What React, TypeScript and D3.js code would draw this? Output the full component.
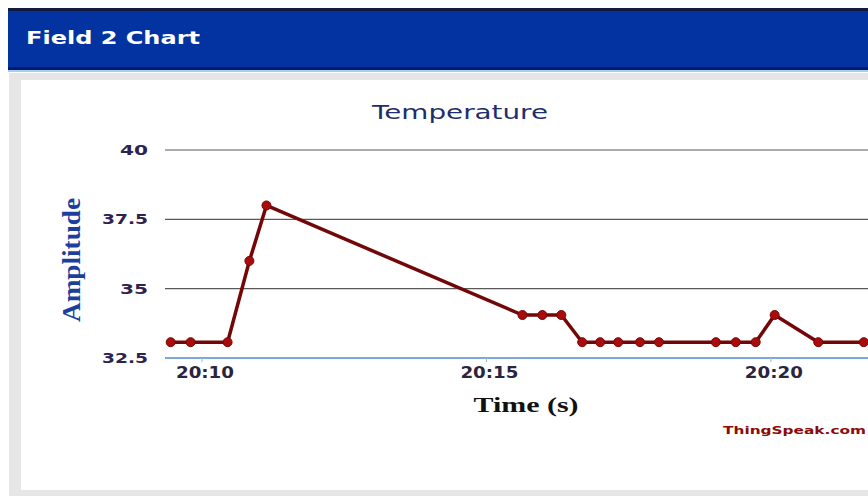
import React from "react";
import * as d3 from "d3";

// readings (time of day, temperature)
const times = [
  "20:09:27", "20:09:48", "20:10:27", "20:10:50", "20:11:08",
  "20:15:38", "20:15:59", "20:16:19", "20:16:41", "20:17:00",
  "20:17:19", "20:17:42", "20:18:02", "20:19:02", "20:19:23",
  "20:19:44", "20:20:04", "20:20:50", "20:21:38"
];
const temps = [
  33.07, 33.07, 33.07, 36.0, 38.0,
  34.05, 34.05, 34.05, 33.07, 33.07,
  33.07, 33.07, 33.07, 33.07, 33.07,
  33.07, 34.05, 33.07, 33.07
];
const yTicks = [32.5, 35, 37.5, 40];
const xTicks = ["20:10:00", "20:15:00", "20:20:00"];
const timeDomain = ["20:09:21", "20:21:53"];

const parse = (s: string) => d3.timeParse("%H:%M:%S")(s) as Date;
const fmt = d3.timeFormat("%H:%M");

const W = 868;
const H = 496;

const App: React.FC = () => {
  const x = d3.scaleTime().domain(timeDomain.map(parse)).range([165, 878]);
  const y = d3.scaleLinear().domain([32.5, 40]).range([358, 150]);

  const points = times.map((t, i) => ({ t: parse(t), v: temps[i] }));
  const line = d3.line<{ t: Date; v: number }>()
    .x(d => x(d.t))
    .y(d => y(d.v));

  return (
    <div style={{ position: "absolute", left: 0, top: 0 }}>
      <svg width={W} height={H} style={{ display: "block" }}>
        <rect width={W} height={H} fill="#ffffff" />

        {/* header bar */}
        <rect x={8} y={8} width={W - 8} height={3} fill="#141a3c" />
        <rect x={8} y={11} width={W - 8} height={56} fill="#0233a0" />
        <rect x={8} y={67} width={W - 8} height={3} fill="#001c6e" />
        <rect x={8} y={70} width={W - 8} height={2} fill="#a8cdef" />
        <text x={26} y={44} fill="#ffffff" fontFamily="DejaVu Sans" fontWeight="bold"
          fontSize={18} textLength={174} lengthAdjust="spacingAndGlyphs">Field 2 Chart</text>

        {/* panel */}
        <rect x={9} y={73} width={W - 9} height={423} fill="#e6e6e6" />
        <rect x={21} y={80} width={W - 21} height={410} fill="#ffffff" />

        {/* title */}
        <text x={460} y={119} textAnchor="middle" fill="#1d2f6b" fontFamily="DejaVu Sans"
          fontSize={20} textLength={176} lengthAdjust="spacingAndGlyphs">Temperature</text>

        {/* grid + y labels */}
        {yTicks.map(t => (
          <g key={t}>
            <line x1={165} x2={W} y1={y(t)} y2={y(t)}
              stroke={t === 32.5 ? "#4f8fc6" : "#5a5a5a"} strokeWidth={t === 32.5 ? 1.5 : 1.2} />
            <text x={148} y={y(t) + 5} textAnchor="end" fill="#2e2350" fontFamily="DejaVu Sans"
              fontWeight="bold" fontSize={14}
              textLength={String(t).length === 2 ? 28 : 46} lengthAdjust="spacingAndGlyphs">{String(t)}</text>
          </g>
        ))}

        {/* x ticks */}
        {xTicks.map(s => {
          const px = x(parse(s));
          return (
            <g key={s}>
              <line x1={px} x2={px} y1={358} y2={362} stroke="#9ab8d6" strokeWidth={1} />
              <text x={px + 3} y={378} textAnchor="middle" fill="#2a2440" fontFamily="DejaVu Sans"
                fontWeight="bold" fontSize={15} textLength={58} lengthAdjust="spacingAndGlyphs">{fmt(parse(s))}</text>
            </g>
          );
        })}

        {/* axis titles */}
        <text x={526} y={412} textAnchor="middle" fill="#111111" fontFamily="Liberation Serif"
          fontWeight="bold" fontSize={20} textLength={105} lengthAdjust="spacingAndGlyphs">Time (s)</text>
        <text transform="translate(80,260) rotate(-90)" textAnchor="middle" fill="#1c3f9e"
          fontFamily="Liberation Serif" fontWeight="bold" fontSize={26}
          textLength={124} lengthAdjust="spacingAndGlyphs">Amplitude</text>

        {/* series */}
        <path d={line(points) ?? ""} fill="none" stroke="#730707" strokeWidth={3.5}
          strokeLinejoin="round" />
        {points.map((p, i) => (
          <circle key={i} cx={x(p.t)} cy={y(p.v)} r={4.5} fill="#a80c0c" stroke="#7a0505" strokeWidth={1} />
        ))}

        {/* credit */}
        <text x={723} y={434} fill="#8b0a0a" fontFamily="DejaVu Sans" fontWeight="bold"
          fontSize={10} textLength={143} lengthAdjust="spacingAndGlyphs">ThingSpeak.com</text>
      </svg>
    </div>
  );
};

export default App;
